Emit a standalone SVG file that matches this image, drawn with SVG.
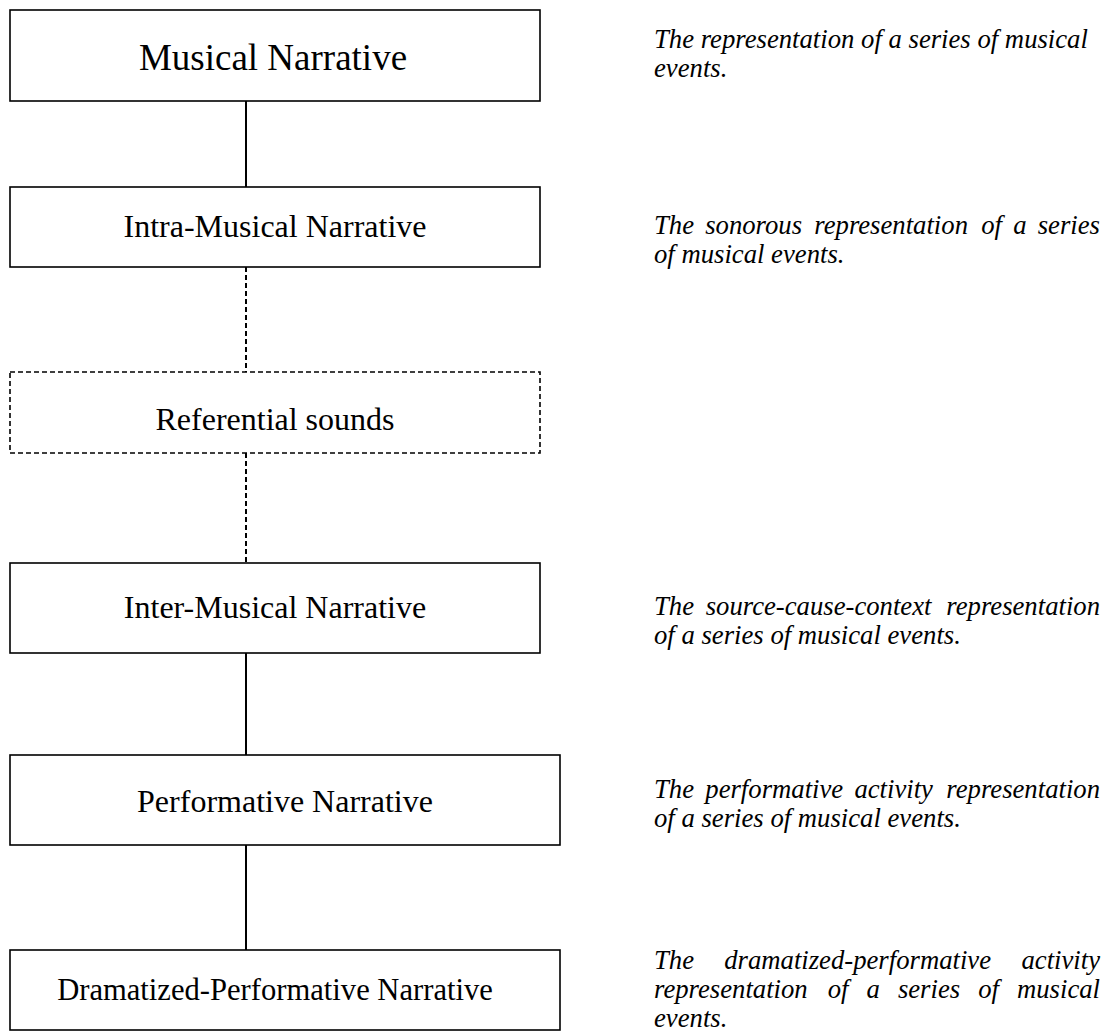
<svg xmlns="http://www.w3.org/2000/svg" width="1104" height="1034" viewBox="0 0 1104 1034">
<style>
.box{fill:#fff;stroke:#000;stroke-width:1.6}
.dbox{fill:#fff;stroke:#000;stroke-width:1.6;stroke-dasharray:5 3}
.lbl{font-family:"Liberation Serif","Times New Roman",serif;font-size:32px;fill:#000;text-anchor:middle}
.big{font-size:37px}
.desc{font-family:"Liberation Serif","Times New Roman",serif;font-style:italic;font-size:26.7px;fill:#000}
.con{stroke:#000;stroke-width:2;fill:none}
.dcon{stroke:#000;stroke-width:2;fill:none;stroke-dasharray:5 3}
</style>
<rect width="1104" height="1034" fill="#fff"/>
<g id="connectors">
<line class="con" x1="246" y1="101" x2="246" y2="187"/>
<line class="dcon" x1="246" y1="267" x2="246" y2="372"/>
<line class="dcon" x1="246" y1="453" x2="246" y2="563"/>
<line class="con" x1="246" y1="653" x2="246" y2="755"/>
<line class="con" x1="246" y1="845" x2="246" y2="950"/>
</g>
<g id="n1">
<rect class="box" x="10" y="10" width="530" height="91"/>
<text class="lbl big" x="273" y="70">Musical Narrative</text>
</g>
<g id="n2">
<rect class="box" x="10" y="187" width="530" height="80"/>
<text class="lbl" x="275" y="237">Intra-Musical Narrative</text>
</g>
<g id="n3">
<rect class="dbox" x="10" y="372" width="530" height="81"/>
<text class="lbl" x="275" y="430">Referential sounds</text>
</g>
<g id="n4">
<rect class="box" x="10" y="563" width="530" height="90"/>
<text class="lbl" x="275" y="618">Inter-Musical Narrative</text>
</g>
<g id="n5">
<rect class="box" x="10" y="755" width="550" height="90"/>
<text class="lbl" x="285" y="812">Performative Narrative</text>
</g>
<g id="n6">
<rect class="box" x="10" y="950" width="550" height="80"/>
<text class="lbl" x="275" y="1000" style="font-size:30.6px">Dramatized-Performative Narrative</text>
</g>
<g id="d1">
<text class="desc" x="654" y="48">The representation of a series of musical</text>
<text class="desc" x="654" y="77">events.</text>
</g>
<g id="d2">
<text class="desc" y="234"><tspan x="654">The</tspan><tspan x="705.2">sonorous</tspan><tspan x="814.3">representation</tspan><tspan x="981.2">of</tspan><tspan x="1013.2">a</tspan><tspan x="1100" text-anchor="end">series</tspan></text>
<text class="desc" x="654" y="263">of musical events.</text>
</g>
<g id="d3">
<text class="desc" y="615"><tspan x="654">The</tspan><tspan x="705.7">source-cause-context</tspan><tspan x="1100" text-anchor="end">representation</tspan></text>
<text class="desc" x="654" y="644">of a series of musical events.</text>
</g>
<g id="d4">
<text class="desc" y="798"><tspan x="654">The</tspan><tspan x="705.3">performative</tspan><tspan x="854.4">activity</tspan><tspan x="1100" text-anchor="end">representation</tspan></text>
<text class="desc" x="654" y="827">of a series of musical events.</text>
</g>
<g id="d5">
<text class="desc" y="969"><tspan x="654">The</tspan><tspan x="724.2">dramatized-performative</tspan><tspan x="1100" text-anchor="end">activity</tspan></text>
<text class="desc" y="998"><tspan x="654">representation</tspan><tspan x="827.7">of</tspan><tspan x="866.5">a</tspan><tspan x="897.9">series</tspan><tspan x="978.2">of</tspan><tspan x="1100" text-anchor="end">musical</tspan></text>
<text class="desc" x="654" y="1027">events.</text>
</g>
</svg>
